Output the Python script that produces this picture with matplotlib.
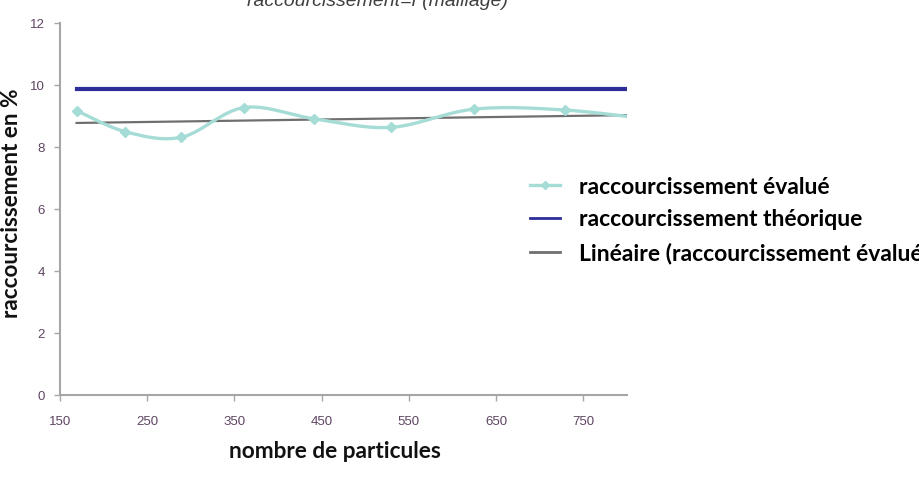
import numpy as np
import matplotlib
matplotlib.use("Agg")
import matplotlib.pyplot as plt
from matplotlib.lines import Line2D

# ---- data ----
particules = [169, 225, 289, 361, 441, 529, 625, 729, 841]
evalue = [9.18, 8.50, 8.32, 9.28, 8.92, 8.64, 9.23, 9.20, 8.85]
theorique = 9.87
x_ticks = [150, 250, 350, 450, 550, 650, 750]
y_ticks = [0, 2, 4, 6, 8, 10, 12]
title = "raccourcissement=f (maillage)"
xlabel = "nombre de particules"
ylabel = "raccourcissement en %"
labels = ["raccourcissement évalué", "raccourcissement théorique",
          "Linéaire (raccourcissement évalué)"]


def smooth(xs, ys, n=40):
    """Excel-like smoothed line (Catmull-Rom Bezier)."""
    P = np.column_stack([xs, ys]).astype(float)
    P = np.vstack([P[0], P, P[-1]])
    out = []
    for i in range(1, len(P) - 2):
        p0, p1, p2, p3 = P[i - 1], P[i], P[i + 1], P[i + 2]
        c1 = p1 + (p2 - p0) / 6.0
        c2 = p2 - (p3 - p1) / 6.0
        t = np.linspace(0, 1, n)[:, None]
        seg = ((1 - t) ** 3) * p1 + 3 * ((1 - t) ** 2) * t * c1 + 3 * (1 - t) * t ** 2 * c2 + t ** 3 * p2
        out.append(seg if i == 1 else seg[1:])
    s = np.vstack(out)
    return s[:, 0], s[:, 1]


fig = plt.figure(figsize=(9.2, 4.78), dpi=100)
ax = fig.add_axes([60 / 920, 1 - 395 / 478, (627 - 60) / 920, (395 - 23.3) / 478])

teal = "#a6dcd6"
blue = "#2e2e9a"
grey = "#6f6f6f"

sx, sy = smooth(particules, evalue)
ax.plot(sx, sy, color=teal, lw=2.4, solid_capstyle="round", zorder=3)
ax.plot(particules, evalue, linestyle="none", marker="D", ms=5.5, color=teal, zorder=4)

ax.plot([particules[0], particules[-1]], [theorique, theorique], color=blue, lw=3, zorder=2)

coef = np.polyfit(particules, evalue, 1)
tx = np.array([particules[0], particules[-1]])
ax.plot(tx, np.polyval(coef, tx), color=grey, lw=1.6, zorder=2)

ax.set_xlim(150, 800)
ax.set_ylim(0, 12)
ax.set_xticks(x_ticks)
ax.set_yticks(y_ticks)

for s in ["top", "right"]:
    ax.spines[s].set_visible(False)
for s in ["left", "bottom"]:
    ax.spines[s].set_color("#a6a6a6")
    ax.spines[s].set_linewidth(1.5)

tick_family = ["Liberation Sans Narrow", "Liberation Sans", "DejaVu Sans"]
ax.tick_params(axis="both", colors="#a6a6a6", length=4, width=1, direction="out")
for lab in ax.get_xticklabels() + ax.get_yticklabels():
    lab.set_fontfamily(tick_family)
    lab.set_fontsize(9.5)
    lab.set_color("#5e4462")
ax.tick_params(axis="x", pad=11)
ax.tick_params(axis="y", pad=7)

bold_font = ["Lato", "DejaVu Sans"]
fig.text(335 / 920, 1 - 452 / 478, xlabel, ha="center", va="center",
         fontsize=16.3, fontweight="bold", family=bold_font, color="#111111")
fig.text(12 / 920, 1 - 203 / 478, ylabel, ha="center", va="center", rotation=90,
         fontsize=16.2, fontweight="bold", family=bold_font, color="#111111")

fig.text(378 / 920, 1 - 6 / 478, title, ha="center", va="baseline",
         fontsize=14, style="italic", family=["Liberation Sans", "DejaVu Sans"], color="#404040")

handles = [
    Line2D([], [], color=teal, lw=2.4, marker="D", ms=4),
    Line2D([], [], color=blue, lw=2),
    Line2D([], [], color=grey, lw=2),
]
leg = fig.legend(handles, labels, loc="upper left", bbox_to_anchor=(530 / 920, 1 - 176.5 / 478),
                 frameon=False, prop={"family": bold_font, "weight": "bold", "size": 16.5},
                 handlelength=1.3, handletextpad=0.85, labelspacing=0.52, borderaxespad=0,
                 borderpad=0)

fig.savefig("out.png", dpi=100)
